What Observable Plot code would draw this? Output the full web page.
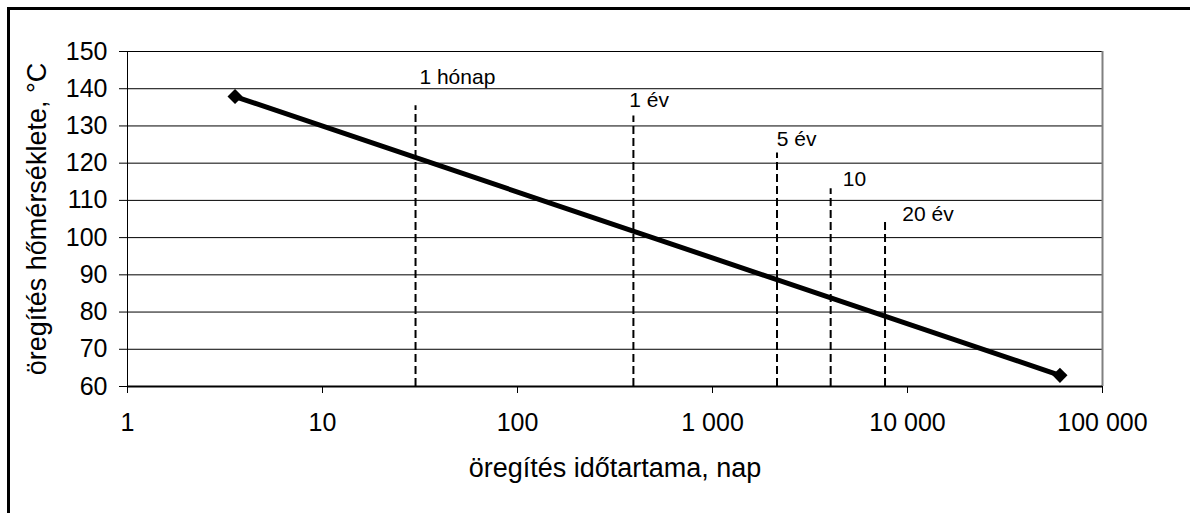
<!DOCTYPE html>
<html><head><meta charset="utf-8">
<script src="https://cdn.jsdelivr.net/npm/d3@7"></script>
<script src="https://cdn.jsdelivr.net/npm/@observablehq/plot@0.6"></script>
<style>
html,body{margin:0;padding:0;background:#fff;overflow:hidden}
#chart{position:relative;width:1190px;height:513px}
#chart svg{position:absolute;left:0;top:0}
#frame{position:absolute;left:7px;top:7px;width:1200px;height:520px;border-top:3px solid #000;border-left:3px solid #000;pointer-events:none}
</style></head><body>
<div id="chart"><div id="frame"></div></div>
<script>
// ---- data ----
const xTicks = [1, 10, 100, 1000, 10000, 100000];
const yTicks = [60, 70, 80, 90, 100, 110, 120, 130, 140, 150];
const seriesX = [3.56, 60500];
const seriesY = [137.9, 63];
const markerX = [30, 393, 2142, 4036, 7670];
const markerTop = [135.4, 132.7, 122.7, 113.1, 105.0];
const markerBase = 60;
const labelText = ["1 hónap", "1 év", "5 év", "10", "20 év"];
const labelX = [31.4, 374.5, 2134, 4653, 9404];
const labelY = [141.25, 135.0, 124.5, 114.0, 104.4];
const xTitle = "öregítés időtartama, nap";
const yTitle = "öregítés hőmérséklete, °C";

// ---- tables ----
const series = seriesX.map((x, i) => ({x, y: seriesY[i]}));
const markers = markerX.map((x, i) => ({x, top: markerTop[i], base: markerBase}));
const labels = labelText.map((t, i) => ({t, x: labelX[i], y: labelY[i]}));

const huFormat = d3.formatLocale({decimal: ",", thousands: " ", grouping: [3], currency: ["", ""]}).format(",");

const chart = Plot.plot({
  width: 1190,
  height: 513,
  marginLeft: 127,
  marginRight: 88,
  marginTop: 51,
  marginBottom: 127,
  style: {fontFamily: "'Liberation Sans', Arial, sans-serif", fontSize: "25px", color: "#000", background: "transparent"},
  x: {type: "log", domain: [1, 100000]},
  y: {domain: [60, 150]},
  marks: [
    Plot.ruleY(yTicks, {stroke: "#000", strokeWidth: 1}),
    Plot.ruleX([xTicks[xTicks.length - 1]], {stroke: "#808080", strokeWidth: 2}),
    Plot.ruleX([xTicks[0]], {stroke: "#000", strokeWidth: 1}),
    Plot.ruleY([yTicks[0]], {stroke: "#000", strokeWidth: 2}),
    Plot.axisX({ticks: xTicks, tickFormat: huFormat, tickSize: 7, tickPadding: 20, fontSize: 25, label: null, stroke: "#000"}),
    Plot.axisY({ticks: yTicks, tickSize: 8, tickPadding: 12, fontSize: 25, label: null, stroke: "#000"}),
    Plot.ruleX(markers, {x: "x", y1: "base", y2: "top", stroke: "#000", strokeWidth: 2, strokeDasharray: "8,4"}),
    Plot.line(series, {x: "x", y: "y", stroke: "#000", strokeWidth: 5}),
    Plot.dot(series, {x: "x", y: "y", symbol: "diamond2", r: 6.8, fill: "#000", stroke: "none"}),
    Plot.text(labels, {x: "x", y: "y", text: "t", textAnchor: "start", lineAnchor: "bottom", fontSize: 21, fill: "#000"}),
    Plot.text([xTitle], {text: d => d, frameAnchor: "bottom", textAnchor: "middle", dy: 90, lineAnchor: "bottom", fontSize: 27, fill: "#000"}),
    Plot.text([yTitle], {text: d => d, frameAnchor: "left", textAnchor: "middle", dx: -90, rotate: -90, lineAnchor: "middle", fontSize: 27, fill: "#000"})
  ]
});
document.getElementById("chart").prepend(chart);
</script>
</body></html>
